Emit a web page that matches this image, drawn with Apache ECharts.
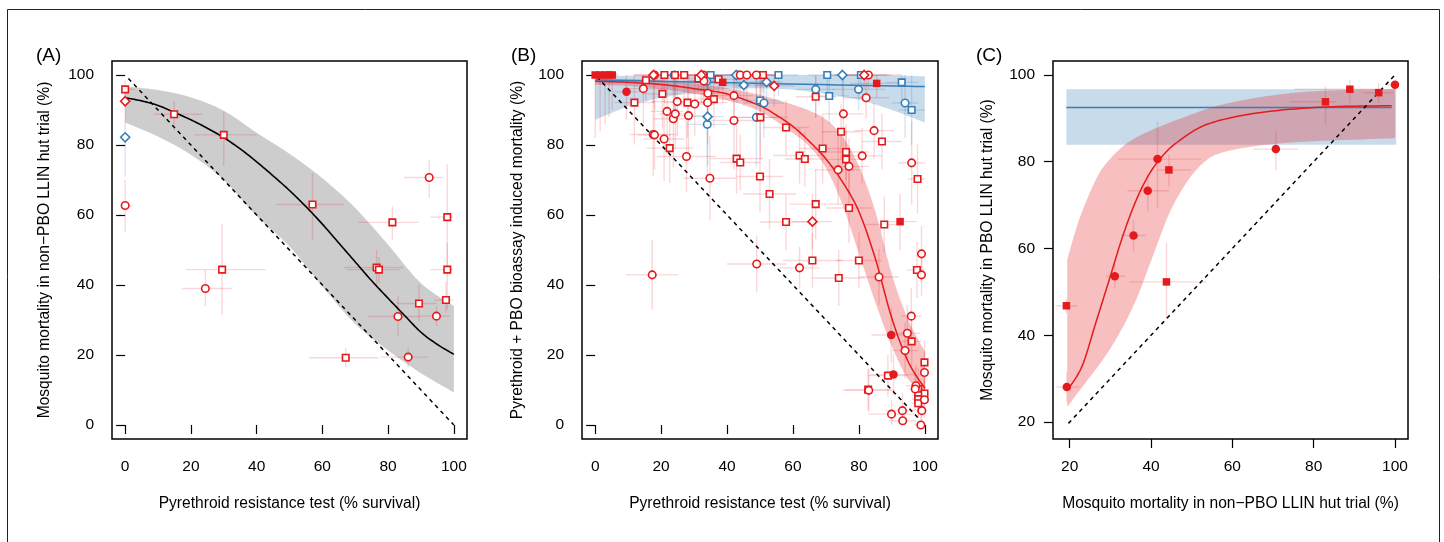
<!DOCTYPE html>
<html><head><meta charset="utf-8">
<script src="https://cdn.jsdelivr.net/npm/echarts@6/dist/echarts.min.js"></script>
<style>html,body{margin:0;padding:0;background:#fff}#c{width:1444px;height:542px}</style>
</head><body><div id="c"></div>
<script>
// ---------- Panel A data [x, y, xlo, xhi, ylo, yhi] ----------
const aRedSquare = [[0,95.9,0,3,93,98.5],[14.9,88.8,8.8,23.5,84.3,92.6],[30,82.9,21.2,40,74,89.6],[57,63,46,66.5,53,72],[29.5,44.4,18.4,42.7,31.6,57.5],[81.3,57.9,70.9,89.1,53,62.5],[98,59.4,92.9,99.8,44.4,74.4],[98,44.4,92.9,99.8,33,52],[97.6,35.7,94,99.8,32,41],[76.5,45,66.5,84.6,39.7,50],[77.2,44.4,67.5,83.5,40.5,48],[89.4,34.7,82.6,94.7,29.7,40.2],[67.1,19.2,55.9,77,16.4,22]];
const aRedCircle = [[0,62.7,0,2,55,70],[24.4,39,17.3,32.4,34,44.4],[92.5,70.7,84.8,96.6,65,75.8],[83,31,74,89.7,25.5,36.8],[94.7,31.1,89.6,98.8,28.3,34],[86.1,19.4,77.7,92.2,16.4,22]];
const aRedDiamond = [[0,92.5,0,2,86,96]];
const aBlueDiamond = [[0,82.2,0,0,71,86]];
const aFitX = [0,5,10,15,20,25,30,35,40,45,50,55,60,65,70,75,80,85,90,95,100];
const aFitY = [93.5,92.6,91.3,89.3,87.2,84.8,82.1,78.9,75.2,71.2,67,62.4,57.4,52,46.6,41.2,36.2,31.3,26.5,23,20.2];
const aBandX = [0,10,20,30,40,50,60,70,80,90,100];
const aBandUpper = [96.7,95.7,93.6,89.8,83.5,77.5,70.5,62,51.5,40.5,34];
const aBandLower = [86.4,82.4,77.2,70,59.7,51,39.6,28.9,21.3,14.8,9.3];
const aRefLine = [[1,99],[100,0]];

// ---------- Panel B data [x, y, xerr, yerr] ----------
const bRedCircle = [[18,100,6,10],[32.8,100,6,8],[44,100,5,6],[46,100,6,8],[48.9,100,8,6],[82.9,100,10,4],
 [14.6,96.1,6,10],[21.8,89.6,5,12],[23.7,87.5,6,14],[24.3,88.9,5,10],[24.9,92.4,8,10],[30.2,91.7,6,9],[28.3,88.4,7,12],[33,98.3,5,5],[34.2,94.8,6,8],[34.1,92.1,6,12],[42.1,94.1,6,8],[42.1,87,7,14],[17.6,83,7,12],[18,82.9,5,10],[20.9,81.7,6,12],[27.7,76.7,9,10],[34.8,70.5,8,12],[17.3,42.9,8,10],[49,46,9,8],[62,44.9,6,6],[75.3,88.9,6,10],[77,73.9,6,8],[73.7,72.9,7,10],[81,76.9,6,8],[82.2,93.5,7,6],[84.6,84.1,6,8],[96,74.9,4,12],[99,48.9,1,8],[99,42.9,1,6],[86.1,42.3,6,8],[95.9,31.1,3,8],[94.7,26.2,4,8],[94,21.3,4,8],[99.9,15,1,6],[83,9.9,8,6],[97.3,11.2,3,6],[97.1,10.3,2,6],[99.9,7.2,1,5],[99.1,4.1,1,4],[93.2,4.1,5,5],[89.9,3.1,7,4],[93.3,1.2,4,3],[98.8,0,2,3]];
const bRedSquare = [[21,100,5,8],[24.2,100,6,10],[27,100,5,8],[50.4,100,6,6],[50.9,100,5,5],
 [15.4,98.5,5,6],[11.9,92.1,6,12],[20.4,94.6,6,10],[28,92.1,7,10],[31.3,99,5,4],[36,93.1,6,8],[37.4,98.8,5,4],[50.1,87.9,8,12],[22.6,79.1,7,10],[42.9,76.1,8,10],[44,75,6,8],[50,71,7,10],[52.9,66,8,10],[57.9,85,7,8],[66.9,93.8,6,6],[62,77,8,8],[63.6,76,6,8],[69,79,7,10],[66.9,63.1,8,10],[57.9,58,8,8],[65.9,47,9,8],[73.9,42,8,8],[80,47,7,8],[74.6,83.8,6,8],[76.1,78,7,8],[76.1,75.9,6,8],[77,62,7,10],[87,81,6,8],[97.8,70.3,3,10],[87.7,57.3,6,8],[97.6,44.3,3,8],[96,23.9,3,8],[99.9,17.9,1,6],[88.8,14.1,6,6],[82.8,10.1,7,6],[98,10.3,2,6],[99.9,9,1,5],[98,8.5,2,5],[98,7.4,2,5],[98,6.2,2,4]];
const bRedDiamond = [[17.7,100,6,8],[32.2,100,5,8],[81.6,100,8,4],[54.3,96.9,6,6],[65.9,58.1,6,8]];
const bRedFilledCircle = [[9.5,95.2,4,8],[89.8,25.7,6,8],[90.5,14.4,7,6]];
const bRedFilledSquare = [[0,100,2,18],[1.5,100,2,16],[3,100,2,14],[4.2,100,2,12],[5.2,100,2,10],[38.7,97.9,5,6],[85.4,97.6,8,4],[92.5,58.1,5,8]];
const bBlueSquare = [[35,100,5,8],[55.6,100,6,6],[70.4,100,6,6],[80.6,100,8,4],[50,92.7,6,12],[71,94,6,8],[93,97.9,5,5],[96,90,4,10]];
const bBlueCircle = [[24,100,5,10],[43.3,100,6,8],[34,85.9,6,16],[51.2,92,6,10],[48.9,87.9,8,14],[66.9,95.9,6,8],[79.9,95.9,8,6],[94,92,4,10],[33.8,98.2,5,6]];
const bBlueDiamond = [[42.8,100,6,8],[75,100,6,6],[45.1,97.1,6,6],[52,98,5,5],[34.1,88.1,5,14]];
const bRedFitX = [0,10,20,30,40,50,55,60,65,70,75,80,85,90,95,100];
const bRedFitY = [98.2,97.9,97.3,96.1,94.6,91.2,88.5,85.3,81,76,69.5,61,47.5,30.5,18,10.5];
const bRedBandX = [0,10,20,30,40,50,60,65,70,75,80,85,90,95,100];
const bRedBandUpper = [99,98.8,98.4,97.6,96.2,94.3,91.5,89.8,87.3,82.5,74,61,43,30,21];
const bRedBandLower = [97.2,96.9,96,94.6,92.8,89.6,83.4,79.5,73.4,63,49,35,22.5,13,9.5];
const bBlueFitX = [0,50,100];
const bBlueFitY = [98.6,97.6,96.7];
const bBlueBandX = [0,10,20,30,40,50,60,70,80,90,100];
const bBlueBandUpper = [99.6,99.8,100,100,100,100,100,100,100,99.9,99.6];
const bBlueBandLower = [87.2,91,93.5,95,96,96.2,95.8,94.6,92.9,90,86.4];
const bRefLine = [[0.5,99.5],[98,2]];

// ---------- Panel C data [x, y, xlo, xhi, ylo, yhi] ----------
const cRedFilledCircle = [[19.3,28.1,16.7,22.3,24.7,31.6],[31.1,53.6,28.9,33.8,50.8,56.4],[35.7,63,32.6,38.8,59.3,66.6],[39.2,73.3,34.2,44.5,68.5,77],[41.6,80.6,31.8,52.3,69.3,89.3],[70.7,82.9,65.1,76.2,78.1,87],[100,97.7,98,100,96.5,98.5]];
const cRedFilledSquare = [[19.2,46.8,16.5,21.9,45,48.5],[44.4,78.1,41.6,49.9,74.3,81.6],[43.8,52.3,34.6,53.6,43.9,61.4],[82.9,93.8,74.1,85.6,88.5,97.3],[88.9,96.7,75.3,97.1,93.5,98.9],[96,95.9,92.2,99.6,93.5,98.1]];
const cRedFitX = [19.8,23.1,26.4,29.7,33,36.3,39.6,42.9,46.2,52.7,61,69.2,77.4,85.6,99.2];
const cRedFitY = [27.8,33,42.8,52.7,62.7,71,77.2,81.4,84.3,88.2,90.4,91.6,92.3,92.7,92.9];
const cRedBandUpper = [[19.4,57.4],[22.3,66.6],[26.4,75.8],[29.7,80.4],[34.6,84.6],[41.2,87.7],[48.6,90.4],[56.8,93],[69.2,95.2],[81.5,96.3],[100,96.8]];
const cRedBandLower = [[19.4,23.5],[23.1,28.1],[28.1,34.3],[32.2,40.4],[36.3,48.1],[40.4,58.1],[44.5,68.1],[48.6,75],[52.7,79.6],[56.8,81.9],[65.1,83.5],[77.4,84.6],[100,85.4]];
const cBlueFit = [[19.2,92.5],[99.2,92.5]];
const cBlueBandUpper = [[19.2,96.7],[100.3,96.7]];
const cBlueBandLower = [[19.2,83.9],[100.3,83.9]];
const cRefLine = [[19.7,19.7],[100,100]];

const ticksAB = [0,20,40,60,80,100];
const ticksC = [20,40,60,80,100];

// ---------- styling / builders ----------
const RED = '#E41A1C', BLUE = '#377EB8';
const ERR_RED = 'rgba(228,26,28,0.17)', ERR_BLUE = 'rgba(55,126,184,0.2)';
const FONT = 'Liberation Sans, Arial, Helvetica, sans-serif';
const zip = (xs, ys) => xs.map((x, i) => [x, ys[i]]);

// Catmull-Rom resampling of pixel points (rendering only, for smooth curves)
function smoothPix(p) {
  if (p.length < 3) return p;
  const out = [], n = p.length, S = 12;
  for (let i = 0; i < n - 1; i++) {
    const p0 = p[Math.max(i - 1, 0)], p1 = p[i], p2 = p[i + 1], p3 = p[Math.min(i + 2, n - 1)];
    for (let k = 0; k < S; k++) {
      const t = k / S, t2 = t * t, t3 = t2 * t;
      const f = (a, b, c, d) => 0.5 * (2 * b + (-a + c) * t + (2 * a - 5 * b + 4 * c - d) * t2 + (-a + 3 * b - 3 * c + d) * t3);
      out.push([f(p0[0], p1[0], p2[0], p3[0]), f(p0[1], p1[1], p2[1], p3[1])]);
    }
  }
  out.push(p[n - 1]);
  return out;
}
function bandSeries(gi, upper, lower, color) {
  return { type: 'custom', xAxisIndex: gi, yAxisIndex: gi, silent: true, z: 1,
    data: upper, encode: { x: 0, y: 1 },
    renderItem: function (params, api) {
      if (params.dataIndex !== 0) return null;
      const up = smoothPix(upper.map(p => api.coord(p)));
      const lo = smoothPix(lower.map(p => api.coord(p)));
      return { type: 'polygon', shape: { points: up.concat(lo.reverse()) }, style: { fill: color } };
    } };
}
function curveSeries(gi, data, color, width) {
  return { type: 'custom', xAxisIndex: gi, yAxisIndex: gi, silent: true, z: 3,
    data: data, encode: { x: 0, y: 1 },
    renderItem: function (params, api) {
      if (params.dataIndex !== 0) return null;
      const p = smoothPix(data.map(d => api.coord(d)));
      return { type: 'polyline', shape: { points: p }, style: { stroke: color, lineWidth: width, fill: null } };
    } };
}
function errSeries(gi, data, color, asym) {
  return { type: 'custom', xAxisIndex: gi, yAxisIndex: gi, silent: true, z: 2,
    data: data, encode: { x: 0, y: 1 },
    renderItem: function (params, api) {
      const x = api.value(0), y = api.value(1);
      let xlo, xhi, ylo, yhi;
      if (asym) { xlo = api.value(2); xhi = api.value(3); ylo = api.value(4); yhi = api.value(5); }
      else { const ex = api.value(2), ey = api.value(3);
        xlo = Math.max(0, x - ex); xhi = Math.min(100, x + ex); ylo = Math.max(0, y - ey); yhi = Math.min(100, y + ey); }
      const a = api.coord([xlo, y]), b = api.coord([xhi, y]), c = api.coord([x, ylo]), d = api.coord([x, yhi]);
      const st = { stroke: color, lineWidth: 1.4 };
      return { type: 'group', children: [
        { type: 'line', shape: { x1: a[0], y1: a[1], x2: b[0], y2: b[1] }, style: st },
        { type: 'line', shape: { x1: c[0], y1: c[1], x2: d[0], y2: d[1] }, style: st } ] };
    } };
}
function dashSeries(gi, data) {
  return { type: 'line', xAxisIndex: gi, yAxisIndex: gi, data: data, symbol: 'none', silent: true, z: 3,
    animation: false, lineStyle: { color: '#000', width: 1.5, type: [4, 4] } };
}
function pts(gi, data, symbol, size, color, filled) {
  return { type: 'scatter', xAxisIndex: gi, yAxisIndex: gi, data: data, symbol: symbol, symbolSize: size,
    encode: { x: 0, y: 1 }, silent: true, z: 4,
    itemStyle: { color: filled ? color : '#fff', borderColor: color, borderWidth: filled ? 0 : 1.6, opacity: 1 } };
}
function axis(gi, min, max, ticks, name, gap, margin) {
  return { gridIndex: gi, type: 'value', min: min, max: max,
    axisLine: { show: false },
    axisTick: { show: true, length: 9, inside: false, customValues: ticks, lineStyle: { color: '#000', width: 1.2 } },
    axisLabel: { customValues: ticks, margin: margin, fontSize: 15.5, color: '#000', fontFamily: FONT },
    splitLine: { show: false },
    name: name, nameLocation: 'middle', nameGap: gap,
    nameTextStyle: { fontSize: 15.6, color: '#000', fontFamily: FONT } };
}
const gridBase = { top: 61, height: 378, width: 355, show: true, borderColor: '#000', borderWidth: 1.5,
  containLabel: false, outerBoundsMode: 'none' };

const option = {
  backgroundColor: '#fff', animation: false,
  grid: [Object.assign({ left: 112 }, gridBase), Object.assign({ left: 582 }, gridBase, { width: 356 }), Object.assign({ left: 1053 }, gridBase)],
  xAxis: [
    axis(0, -4, 104, ticksAB, 'Pyrethroid resistance test (% survival)', 57, 20),
    axis(1, -4, 104, ticksAB, 'Pyrethroid resistance test (% survival)', 57, 20),
    axis(2, 15.9, 103.2, ticksC, 'Mosquito mortality in non\u2212PBO LLIN hut trial (%)', 57, 20)
  ],
  yAxis: [
    axis(0, -4, 104, ticksAB, 'Mosquito mortality in non\u2212PBO LLIN hut trial (%)', 59, 18),
    axis(1, -4, 104, ticksAB, 'Pyrethroid + PBO bioassay induced mortality (%)', 56, 18),
    axis(2, 16.1, 103.2, ticksC, 'Mosquito mortality in PBO LLIN hut trial (%)', 57, 18)
  ],
  graphic: [
    { type: 'rect', shape: { x: 7.5, y: 9.5, width: 1432, height: 600 }, style: { fill: 'transparent', stroke: '#222', lineWidth: 1 }, silent: true },
    { type: 'text', left: 36, top: 46, style: { text: '(A)', font: '19px ' + FONT, fill: '#000' } },
    { type: 'text', left: 511, top: 46, style: { text: '(B)', font: '19px ' + FONT, fill: '#000' } },
    { type: 'text', left: 976, top: 46, style: { text: '(C)', font: '19px ' + FONT, fill: '#000' } }
  ],
  series: [
    // Panel A
    bandSeries(0, zip(aBandX, aBandUpper), zip(aBandX, aBandLower), '#cdcdcd'),
    errSeries(0, aRedSquare.concat(aRedCircle, aRedDiamond), ERR_RED, true),
    errSeries(0, aBlueDiamond, ERR_BLUE, true),
    dashSeries(0, aRefLine),
    curveSeries(0, zip(aFitX, aFitY), '#000', 1.6),
    pts(0, aRedSquare, 'rect', 6.5, RED, false),
    pts(0, aRedCircle, 'circle', 7.5, RED, false),
    pts(0, aRedDiamond, 'diamond', 9, RED, false),
    pts(0, aBlueDiamond, 'diamond', 9, BLUE, false),
    // Panel B
    bandSeries(1, zip(bBlueBandX, bBlueBandUpper), zip(bBlueBandX, bBlueBandLower), 'rgba(55,126,184,0.28)'),
    bandSeries(1, zip(bRedBandX, bRedBandUpper), zip(bRedBandX, bRedBandLower), 'rgba(228,26,28,0.28)'),
    errSeries(1, bBlueSquare.concat(bBlueCircle, bBlueDiamond), ERR_BLUE, false),
    errSeries(1, bRedCircle.concat(bRedSquare, bRedDiamond, bRedFilledCircle, bRedFilledSquare), ERR_RED, false),
    dashSeries(1, bRefLine),
    curveSeries(1, zip(bBlueFitX, bBlueFitY), BLUE, 1.5),
    curveSeries(1, zip(bRedFitX, bRedFitY), RED, 1.5),
    pts(1, bBlueSquare, 'rect', 6.5, BLUE, false),
    pts(1, bBlueCircle, 'circle', 7.5, BLUE, false),
    pts(1, bBlueDiamond, 'diamond', 9, BLUE, false),
    pts(1, bRedSquare, 'rect', 6.5, RED, false),
    pts(1, bRedCircle, 'circle', 7.5, RED, false),
    pts(1, bRedDiamond, 'diamond', 9, RED, false),
    pts(1, bRedFilledSquare, 'rect', 7.5, RED, true),
    pts(1, bRedFilledCircle, 'circle', 8.5, RED, true),
    // Panel C
    bandSeries(2, cBlueBandUpper, cBlueBandLower, 'rgba(55,126,184,0.28)'),
    bandSeries(2, cRedBandUpper, cRedBandLower, 'rgba(228,26,28,0.28)'),
    errSeries(2, cRedFilledCircle.concat(cRedFilledSquare), ERR_RED, true),
    dashSeries(2, cRefLine),
    curveSeries(2, cBlueFit, BLUE, 1.5),
    curveSeries(2, zip(cRedFitX, cRedFitY), RED, 1.5),
    pts(2, cRedFilledSquare, 'rect', 7.5, RED, true),
    pts(2, cRedFilledCircle, 'circle', 8.5, RED, true)
  ]
};
const chart = echarts.init(document.getElementById('c'), null, { renderer: 'canvas' });
chart.setOption(option);
</script></body></html>
